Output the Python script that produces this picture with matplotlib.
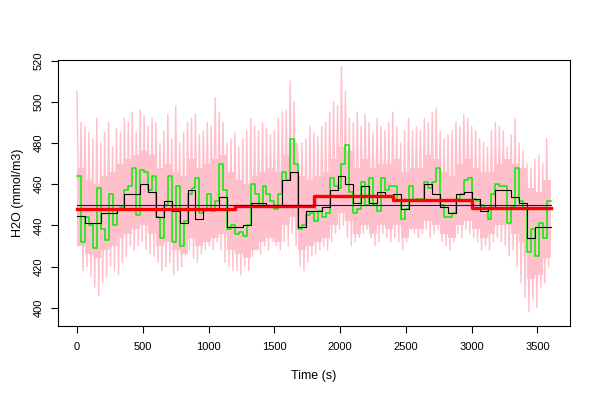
import numpy as np
import matplotlib
matplotlib.use("Agg")
import matplotlib.pyplot as plt

plt.rcParams['font.family'] = ['Liberation Sans', 'DejaVu Sans']

# ---- data ----
# 30-s averages (green)
green_30s = [464, 432, 444, 440, 429, 458, 438, 433, 455, 440,
             448, 449, 457, 459, 468, 445, 467, 466, 457, 464,
             444, 434, 450, 464, 432, 459, 430, 442, 455, 458,
             463, 446, 447, 455, 447, 452, 470, 457, 438, 440,
             436, 437, 435, 440, 460, 455, 449, 459, 455, 452,
             448, 455, 466, 462, 482, 470, 438, 440, 445, 446,
             442, 447, 444, 446, 463, 459, 458, 470, 479, 456,
             446, 448, 461, 450, 463, 450, 447, 463, 457, 459,
             459, 452, 443, 448, 459, 452, 453, 453, 461, 458,
             461, 468, 450, 444, 444, 446, 453, 455, 462, 463,
             453, 452, 450, 448, 443, 455, 460, 459, 459, 441,
             449, 468, 452, 448, 427, 438, 425, 441, 434, 452]

# 60-s averages (black)
black_60s = [444.7, 441, 441, 446, 446, 448, 455, 455, 460, 456,
             444, 452, 447, 441, 457, 443, 448, 448, 454, 439,
             439, 440, 451, 451, 449, 449, 462, 466, 439, 447,
             447, 449, 457, 464, 460, 451, 459, 451, 456, 454,
             455, 448, 453, 452, 460, 455, 449, 446, 455, 456,
             453, 447, 449, 457, 457, 454, 451, 434, 439, 439]

# 600-s averages (red)
red_600s = [447.8, 447.8, 449.2, 454.3, 452.3, 448.3]

# overall mean (blue)
overall_mean = 449.7

# raw-signal spike extremes per 30-s bin (pink)
pink_hi = [505, 490, 488, 485, 482, 492, 480, 485, 490, 478,
           487, 485, 492, 490, 495, 485, 496, 493, 488, 492,
           490, 480, 486, 494, 482, 498, 480, 485, 490, 492,
           494, 484, 486, 490, 488, 502, 495, 490, 480, 482,
           485, 478, 482, 486, 492, 488, 486, 490, 487, 484,
           486, 492, 495, 496, 510, 500, 476, 480, 482, 488,
           485, 483, 488, 490, 495, 500, 498, 517, 505, 492,
           490, 495, 488, 494, 490, 485, 492, 488, 486, 490,
           495, 488, 480, 486, 492, 486, 488, 486, 492, 490,
           495, 497, 486, 482, 484, 486, 490, 488, 494, 492,
           488, 486, 482, 480, 478, 486, 490, 488, 486, 478,
           484, 492, 480, 476, 470, 468, 472, 474, 470, 482]
pink_lo = [430, 418, 420, 415, 410, 406, 412, 415, 420, 418,
           416, 422, 425, 430, 428, 430, 432, 428, 426, 425,
           422, 418, 420, 422, 416, 418, 420, 425, 428, 424,
           422, 426, 428, 430, 428, 432, 428, 422, 420, 418,
           418, 416, 420, 418, 425, 428, 426, 430, 428, 432,
           430, 428, 432, 430, 436, 430, 420, 418, 422, 425,
           426, 428, 430, 428, 432, 436, 438, 440, 434, 430,
           432, 434, 436, 438, 434, 430, 432, 436, 434, 432,
           434, 432, 428, 432, 438, 436, 434, 436, 438, 434,
           436, 438, 432, 430, 428, 432, 436, 434, 438, 436,
           434, 432, 428, 430, 428, 432, 434, 432, 430, 425,
           428, 420, 412, 405, 398, 404, 400, 410, 412, 420]

# dense core of the raw signal per 60-s bin (pink)
core_hi = [468, 462, 460, 464, 466, 470, 472, 474, 476, 474,
           468, 470, 466, 464, 472, 468, 470, 472, 474, 466,
           462, 460, 464, 466, 468, 466, 474, 480, 464, 462,
           464, 466, 472, 478, 476, 468, 472, 468, 470, 470,
           472, 466, 468, 468, 474, 472, 466, 464, 470, 472,
           468, 466, 466, 470, 472, 470, 468, 458, 456, 462]
core_lo = [430, 426, 424, 428, 430, 434, 436, 438, 440, 436,
           430, 432, 428, 426, 434, 430, 432, 434, 436, 428,
           426, 424, 428, 432, 434, 432, 440, 444, 428, 430,
           432, 434, 440, 446, 442, 436, 440, 436, 440, 438,
           440, 434, 438, 438, 442, 440, 436, 434, 440, 442,
           438, 434, 436, 440, 440, 436, 432, 414, 416, 424]

t_end = 3600
x_ticks = [0, 500, 1000, 1500, 2000, 2500, 3000, 3500]
y_ticks = [400, 420, 440, 460, 480, 500, 520]


def step_xy(vals, width):
    t = np.arange(len(vals)) * width
    return np.append(t, t_end), np.append(vals, vals[-1])


fig = plt.figure(figsize=(6, 4), dpi=100)
ax = fig.add_axes([58.1 / 600, 1 - 326 / 400, (569.6 - 58.1) / 600, (326 - 60) / 400])

PINK = '#FFC0CB'
# dense core
cx, chi = step_xy(core_hi, 60)
_, clo = step_xy(core_lo, 60)
ax.fill_between(cx, clo, chi, step='post', color=PINK, lw=0, zorder=1)
# spikes: alternating high/low extremes
n = len(pink_hi)
tp = np.arange(2 * n) * (t_end / (2 * n))
yp = np.empty(2 * n)
yp[0::2] = pink_hi
yp[1::2] = pink_lo
ax.plot(tp, yp, color=PINK, lw=1.0, zorder=1)

gx, gy = step_xy(green_30s, 30)
ax.plot(gx, gy, drawstyle='steps-post', color='#00F000', lw=1.1, zorder=2)
bx, by = step_xy(black_60s, 60)
ax.plot(bx, by, drawstyle='steps-post', color='black', lw=0.8, zorder=3)
rx, ry = step_xy(red_600s, 600)
ax.plot(rx, ry, drawstyle='steps-post', color='#FF0000', lw=2.4, zorder=4)
ax.plot([0, t_end], [overall_mean, overall_mean], color='#0000FF', lw=0.8, zorder=5)

ax.set_xlim(-144, 3744)
ax.set_ylim(391.1, 520.3)
ax.set_xticks(x_ticks)
ax.set_yticks(y_ticks)
ax.set_yticklabels([str(v) for v in y_ticks], rotation=90, va='center')
ax.tick_params(direction='out', length=5, width=0.8, labelsize=8, color='black')
ax.tick_params(axis='x', pad=6.5)
ax.tick_params(axis='y', pad=5.5)
for s in ax.spines.values():
    s.set_linewidth(0.8)
ax.set_xlabel('Time (s)', fontsize=9, labelpad=13)
ax.set_ylabel('H2O (mmol/m3)', fontsize=9, labelpad=7)

fig.savefig('out.png', dpi=100)
